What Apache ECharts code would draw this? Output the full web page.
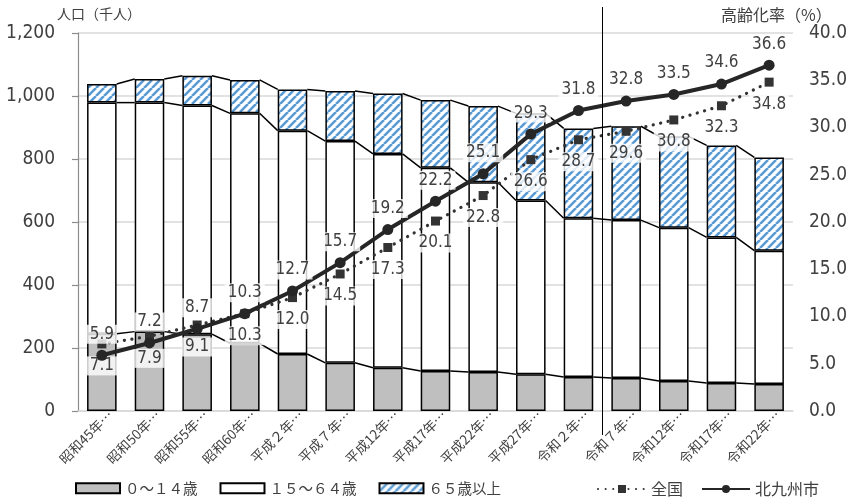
<!DOCTYPE html>
<html>
<head>
<meta charset="utf-8">
<script src="https://cdn.jsdelivr.net/npm/echarts@6/dist/echarts.min.js"></script>
<style>
  html, body { margin: 0; padding: 0; background: #fff; }
  #chart { width: 850px; height: 497px; }
</style>
</head>
<body>
<div id="chart"></div>
<script>
// 北九州市の年齢3区分別人口（千人）と高齢化率（%）
const categories = [
  '昭和45年…', '昭和50年…', '昭和55年…', '昭和60年…', '平成２年…',
  '平成７年…', '平成12年…', '平成17年…', '平成22年…', '平成27年…',
  '令和２年…', '令和７年…', '令和12年…', '令和17年…', '令和22年…'
];
const age0to14  = [245, 252, 244, 215, 181, 153, 137, 127, 124, 117, 108, 105, 95, 89, 86];
const age15to64 = [734, 727, 726, 730, 709, 704, 679, 645, 602, 551, 504, 501, 487, 462, 423];
const age65plus = [59, 75, 94, 106, 131, 159, 192, 215, 242, 277, 285, 298, 290, 292, 296];
const rateNational = [7.1, 7.9, 9.1, 10.3, 12.0, 14.5, 17.3, 20.1, 22.8, 26.6, 28.7, 29.6, 30.8, 32.3, 34.8];
const rateCity     = [5.9, 7.2, 8.7, 10.3, 12.7, 15.7, 19.2, 22.2, 25.1, 29.3, 31.8, 32.8, 33.5, 34.6, 36.6];
const populationTicks = { min: 0, max: 1200, interval: 200 };
const rateTicks = { min: 0, max: 40, interval: 5 };
// 実績（令和２年まで）と推計（令和７年以降）の境目
const lastActualIndex = 10;

const NUM_FONT = "'Liberation Sans Narrow', 'DejaVu Sans Condensed', 'Noto Sans CJK JP', sans-serif";
const JP_FONT = "'Noto Sans CJK JP', sans-serif";
const TEXT = '#404040';
const BAR_RATIO = 0.62;

// 65歳以上の斜線パターン
function stripePattern() {
  const s = 8;
  const c = document.createElement('canvas');
  c.width = s; c.height = s;
  const g = c.getContext('2d');
  g.fillStyle = '#ffffff';
  g.fillRect(0, 0, s, s);
  g.strokeStyle = '#5b9bd5';
  g.lineWidth = 2.6;
  g.beginPath();
  for (const o of [-s, 0, s]) {
    g.moveTo(o, s);
    g.lineTo(o + s, 0);
  }
  g.stroke();
  return c;
}

// 積み上げ各段の上端（区分線用）
const stackTops = categories.map((_, i) => [
  age0to14[i],
  age0to14[i] + age15to64[i],
  age0to14[i] + age15to64[i] + age65plus[i]
]);
const connectorData = categories.slice(0, -1).map((_, i) =>
  [i, ...stackTops[i], i + 1, ...stackTops[i + 1]]);

const barBorder = { borderColor: '#000', borderWidth: 1.5 };

const valueLabel = {
  show: true,
  formatter: p => p.value.toFixed(1),
  fontFamily: NUM_FONT, fontSize: 17, color: TEXT,
  backgroundColor: 'rgba(255,255,255,0.8)', padding: [1, 3]
};

const chart = echarts.init(document.getElementById('chart'));
chart.setOption({
  animation: false,
  grid: { left: 78, right: 54, top: 33, bottom: 86 },
  legend: [
    {
      data: ['０～１４歳', '１５～６４歳', '６５歳以上'],
      left: 70, top: 476, icon: 'rect',
      itemWidth: 44, itemHeight: 10, itemGap: 22,
      textStyle: { fontFamily: JP_FONT, fontSize: 14.5, color: TEXT }
    },
    {
      data: ['全国', '北九州市'],
      left: 592, top: 476,
      itemWidth: 48, itemHeight: 10, itemGap: 18,
      textStyle: { fontFamily: JP_FONT, fontSize: 16, color: TEXT }
    }
  ],
  xAxis: {
    type: 'category',
    data: categories,
    axisLine: { lineStyle: { color: '#d9d9d9', width: 1.5 } },
    axisTick: { show: false },
    axisLabel: {
      rotate: 45, interval: 0, margin: 10,
      padding: [0, -12, 0, 0],
      fontFamily: JP_FONT, fontSize: 13.5, color: TEXT
    }
  },
  yAxis: [
    {
      type: 'value',
      min: populationTicks.min, max: populationTicks.max, interval: populationTicks.interval,
      axisLine: { show: true, lineStyle: { color: '#8c8c8c', width: 1.2 } },
      axisTick: { show: true, length: 6, lineStyle: { color: '#8c8c8c', width: 1.2 } },
      splitLine: { lineStyle: { color: '#d9d9d9', width: 1.5 } },
      axisLabel: {
        margin: 23, fontFamily: NUM_FONT, fontSize: 19, color: TEXT,
        formatter: v => v.toLocaleString('en-US')
      }
    },
    {
      type: 'value',
      min: rateTicks.min, max: rateTicks.max, interval: rateTicks.interval,
      axisLine: { show: false },
      axisTick: { show: false },
      splitLine: { show: false },
      axisLabel: {
        margin: 16, fontFamily: NUM_FONT, fontSize: 19, color: TEXT,
        formatter: v => v.toFixed(1)
      }
    }
  ],
  series: [
    {
      name: '０～１４歳', type: 'bar', stack: 'pop', barWidth: (BAR_RATIO * 100) + '%',
      data: age0to14, itemStyle: Object.assign({ color: '#bfbfbf' }, barBorder)
    },
    {
      name: '１５～６４歳', type: 'bar', stack: 'pop',
      data: age15to64, itemStyle: Object.assign({ color: '#ffffff' }, barBorder)
    },
    {
      name: '６５歳以上', type: 'bar', stack: 'pop',
      data: age65plus,
      itemStyle: Object.assign({ color: { image: stripePattern(), repeat: 'repeat' } }, barBorder)
    },
    {
      name: 'series-lines', type: 'custom',
      data: connectorData,
      encode: { x: 0, y: 1 },
      silent: true,
      renderItem: (params, api) => {
        const half = api.size([1, 0])[0] * BAR_RATIO / 2;
        const children = [];
        for (let k = 0; k < 3; k++) {
          const a = api.coord([api.value(0), api.value(1 + k)]);
          const b = api.coord([api.value(4), api.value(5 + k)]);
          children.push({
            type: 'line',
            shape: { x1: a[0] + half, y1: a[1], x2: b[0] - half, y2: b[1] },
            style: { stroke: '#000', lineWidth: 1.5 }
          });
        }
        return { type: 'group', children };
      }
    },
    {
      name: '全国', type: 'line', yAxisIndex: 1,
      data: rateNational,
      symbol: 'rect', symbolSize: 9,
      itemStyle: { color: '#333333' },
      lineStyle: { color: '#333333', width: 3.2, type: [0.1, 7.5], cap: 'round' },
      label: Object.assign({ position: 'bottom', distance: 8 }, valueLabel),
      z: 4
    },
    {
      name: '北九州市', type: 'line', yAxisIndex: 1,
      data: rateCity,
      symbol: 'circle', symbolSize: 11,
      itemStyle: { color: '#262626' },
      lineStyle: { color: '#262626', width: 4 },
      label: Object.assign({ position: 'top', distance: 6 }, valueLabel),
      z: 5
    }
  ]
});

// 軸タイトルと実績／推計の区切り線
const xA = chart.convertToPixel({ xAxisIndex: 0 }, lastActualIndex);
const xB = chart.convertToPixel({ xAxisIndex: 0 }, lastActualIndex + 1);
const sepX = Math.round((xA + xB) / 2) + 0.5;
chart.setOption({
  graphic: [
    {
      type: 'text', left: 57, top: 7,
      style: { text: '人口（千人）', font: '14px ' + JP_FONT, fill: TEXT }
    },
    {
      type: 'text', left: 721, top: 7,
      style: { text: '高齢化率（%）', font: '16px ' + JP_FONT, fill: TEXT }
    },
    {
      type: 'line', z: 10,
      shape: { x1: sepX, y1: 7, x2: sepX, y2: 435 },
      style: { stroke: '#000', lineWidth: 1 }
    }
  ]
});
</script>
</body>
</html>
